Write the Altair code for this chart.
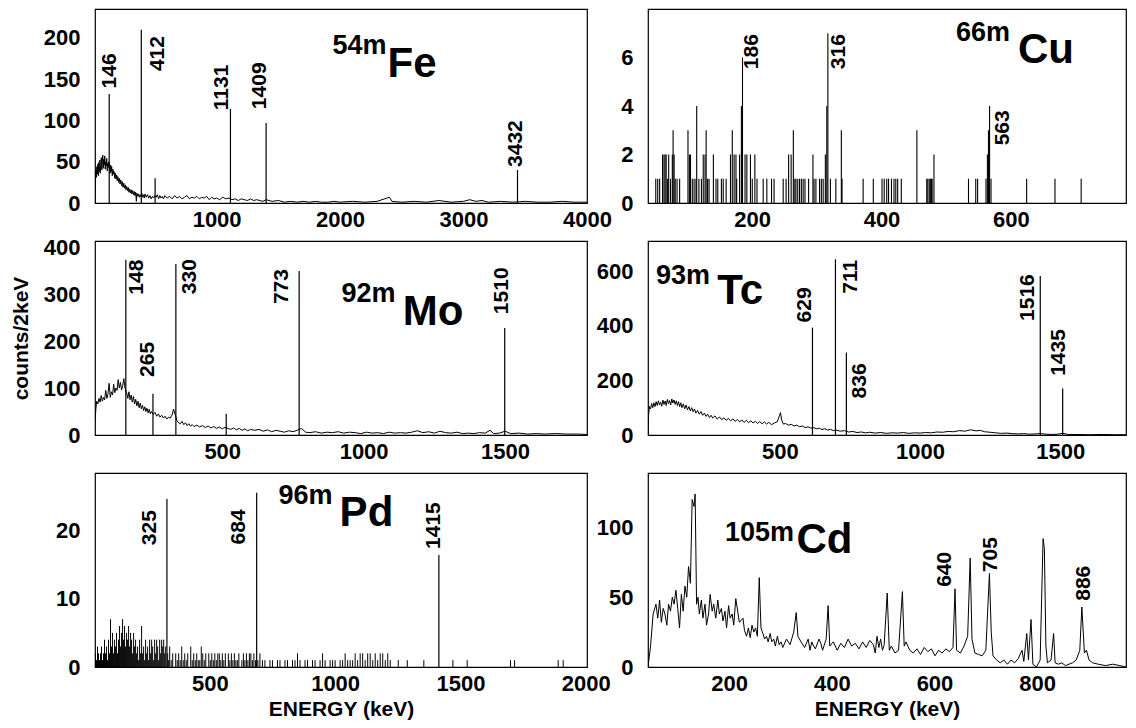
import altair as alt
import pandas as pd

FONT = "Liberation Sans"

# ---------------- 54mFe ----------------
fe_e = [15, 18, 22, 26, 30, 34, 38, 42, 46, 50, 54, 58, 62, 66, 70, 74, 78, 82, 86, 90, 94, 98,
        102, 106, 110, 114, 118, 122, 126, 134, 138, 142, 146, 150, 155, 160, 165, 170, 175, 180,
        185, 190, 195, 200, 206, 212, 218, 224, 230, 236, 242, 248, 254, 260, 266, 272, 278, 284,
        290, 296, 302, 308, 314, 320, 326, 332, 338, 344, 350, 354, 362, 368, 374, 380, 386, 394,
        400, 406, 414, 420, 430, 440, 450, 460, 470, 480, 490, 500, 510, 520, 530, 540, 550, 560,
        570, 580, 600, 620, 640, 660, 680, 700, 720, 740, 760, 780, 800, 820, 840, 860, 880, 900,
        920, 940, 960, 980, 1000, 1025, 1050, 1075, 1100, 1125, 1150, 1175, 1200, 1225, 1250, 1275,
        1300, 1325, 1350, 1375, 1400, 1450, 1500, 1550, 1600, 1650, 1700, 1750, 1800, 1850, 1900,
        1950, 2000, 2100, 2200, 2300, 2400, 2420, 2500, 2600, 2700, 2800, 2900, 3000, 3050, 3100,
        3150, 3200, 3300, 3400, 3500, 3600, 3700, 3800, 3900, 4000]
fe_c = [0, 28, 40, 31, 44, 35, 47, 33, 49, 38, 52, 36, 45, 55, 40, 50, 58, 42, 53, 46, 57, 41,
        50, 45, 54, 39, 48, 43, 50, 44, 36, 46, 38, 44, 33, 41, 35, 38, 30, 36,
        29, 34, 27, 32, 25, 30, 23, 28, 21, 26, 19, 24, 18, 22, 16, 20, 15, 19,
        13, 17, 12, 16, 11, 15, 10, 14, 9, 13, 2, 12, 8, 11, 7, 10, 8, 12,
        7, 10, 6, 11, 7, 10, 6, 9, 5, 8, 6, 9, 7, 10, 5, 9, 6, 8,
        5, 9, 6, 8, 5, 9, 6, 8, 5, 7, 9, 5, 7, 6, 8, 5, 7, 6,
        8, 4, 7, 5, 6, 4, 7, 5, 6, 4, 5, 3, 5, 4, 3, 5,
        3, 4, 3, 2, 4, 2, 3, 1, 2, 1, 2, 1, 2, 1, 1,
        2, 1, 2, 1, 2, 7, 2, 1, 2, 1, 3, 1, 2, 4, 2,
        3, 1, 2, 1, 2, 1, 1, 2, 1, 1]
fe_peak_e = [130, 390, 502, 1112, 1401, 3437]
fe_peak_c = [132, 210, 30, 114, 97, 40]
fe_lab = ["146", "412", "1131", "1409", "3432"]
fe_lab_e = [139, 528, 1045, 1354, 3428]
fe_lab_c = [160, 181, 140, 142, 72]

# ---------------- 66mCu ----------------
cu_e = [51, 54, 57, 61.5, 63.7, 65.4, 67.1, 69.3, 71, 73.8, 76.6, 77.8, 79.4, 81.1, 83.9, 87.9,
        100.8, 103, 104.7, 107.5, 110.3, 113.2, 114.3, 117.7, 121.6, 124.4, 127.2, 128.9, 131.1,
        133.4, 140.1, 144.1, 146.9, 152.5, 155.3, 159.8, 166.5, 169.3, 172.1, 175, 176.1, 180.6,
        183.4, 185.1, 189, 191.8, 197.4, 200.2, 204.2, 207.5, 217.1, 222.7, 230, 233.9, 248,
        252.5, 256.4, 260.3, 263.7, 266, 267.7, 270.5, 273.3, 276.1, 278.9, 281.7, 287.3, 294,
        295.7, 298.6, 304.2, 307, 309.8, 313.2, 315.4, 317.1, 321, 329.4, 337.9, 339, 371.6,
        387.3, 400.8, 404.2, 408.1, 410.9, 415.4, 419.3, 422.1, 425, 430.6, 454.7, 469.9, 471.6,
        473.8, 475.5, 477.2, 478.3, 481.1, 534.5, 545.7, 548.6, 561.5, 563.7, 565.4, 567.1,
        569.3, 624.4, 668.2, 708.7]
cu_c = [1, 1, 1, 2, 2, 2, 2, 1, 2, 1, 2, 3, 2, 1, 1, 1,
        3, 2, 2, 1, 1, 1, 4, 1, 1, 2, 2, 3, 1,
        1, 2, 1, 1, 1, 1, 1, 2, 3, 2, 2, 1, 2,
        4, 6, 2, 2, 2, 1, 2, 1, 1, 1, 1, 1, 1,
        1, 2, 2, 3, 1, 1, 1, 1, 1, 1, 1, 1, 2,
        1, 1, 1, 1, 1, 2, 4, 7, 1, 1, 3, 1, 1,
        1, 1, 1, 1, 1, 1, 1, 1, 1, 1, 3, 1, 1,
        1, 1, 1, 1, 2, 1, 1, 1, 1, 2, 3, 4,
        1, 1, 1, 1]
cu_lab = ["186", "316", "563"]
cu_lab_e = [200, 335, 588]
cu_lab_c = [6.24, 6.24, 3.1]

# ---------------- 92mMo ----------------
mo_e = [50, 53, 56, 60, 64, 68, 72, 76, 80, 84, 88, 92, 96, 100, 104, 108, 112, 116, 120, 124,
        128, 132, 136, 140, 144, 148, 152, 156, 162, 166, 170, 174, 178, 182, 186, 190, 194, 198,
        202, 206, 210, 214, 218, 222, 226, 230, 234, 238, 242, 246, 250, 256, 262, 268, 274, 280,
        286, 292, 298, 304, 310, 316, 322, 328, 340, 346, 352, 358, 364, 370, 376, 382, 388, 394,
        400, 410, 420, 430, 440, 450, 460, 470, 480, 490, 500, 505, 510, 520, 530, 540, 550, 560,
        570, 580, 590, 600, 615, 630, 645, 660, 675, 690, 705, 720, 735, 750, 765, 780, 795, 810,
        830, 850, 870, 890, 910, 930, 950, 970, 990, 1010, 1030, 1050, 1070, 1090, 1110, 1130,
        1150, 1170, 1190, 1210, 1230, 1250, 1270, 1290, 1310, 1330, 1350, 1370, 1390, 1410, 1430,
        1447, 1460, 1480, 1500, 1520, 1550, 1580, 1610, 1640, 1680, 1720, 1760, 1790]
mo_c = [28, 55, 72, 66, 78, 70, 84, 72, 80, 75, 95, 78, 88, 110, 80, 92, 85, 108, 90, 100,
        95, 118, 100, 112, 96, 105, 120, 100, 90, 78, 92, 75, 85, 70, 82, 66, 76, 62,
        72, 58, 68, 56, 63, 52, 60, 50, 57, 47, 55, 45, 50, 44, 48, 40, 45, 38,
        42, 36, 40, 34, 38, 36, 42, 55, 30, 26, 24, 29, 22, 26, 20, 24, 19, 22,
        18, 21, 17, 20, 16, 19, 15, 18, 14, 17, 13, 15, 16, 14, 12, 15, 11, 14,
        10, 13, 9, 12, 10, 12, 8, 11, 7, 10, 8, 6, 9, 7, 10, 14, 6, 5,
        7, 4, 6, 5, 7, 4, 6, 5, 3, 6, 4, 5, 3, 6, 4, 5,
        4, 6, 9, 5, 7, 4, 8, 5, 4, 6, 3, 4, 3, 5, 4,
        10, 3, 4, 8, 3, 4, 2, 3, 2, 3, 2, 2, 1]
mo_peak_e = [159, 255, 336, 514, 772, 1499]
mo_peak_c = [373, 88, 364, 45, 349, 228]
mo_lab = ["148", "265", "330", "773", "1510"]
mo_lab_e = [200, 238, 386, 713, 1488]
mo_lab_c = [336, 161, 337, 316, 307]

# ---------------- 93mTc ----------------
tc_e = [29, 31, 34, 38, 42, 46, 50, 54, 58, 62, 66, 70, 74, 78, 82, 86, 90, 94, 98, 102, 106,
        110, 114, 118, 122, 126, 130, 134, 138, 142, 146, 150, 155, 160, 165, 170, 175, 180, 185,
        190, 195, 200, 206, 212, 218, 224, 230, 236, 242, 248, 254, 260, 268, 276, 284, 292, 300,
        308, 316, 324, 332, 340, 348, 356, 364, 372, 380, 388, 396, 404, 412, 420, 428, 436, 444,
        452, 460, 470, 480, 490, 498, 502, 506, 512, 520, 530, 540, 550, 560, 570, 580, 590, 600,
        610, 620, 630, 640, 650, 660, 670, 680, 690, 700, 715, 730, 745, 760, 775, 790, 805, 820,
        840, 860, 880, 900, 920, 940, 960, 980, 1000, 1020, 1040, 1060, 1080, 1100, 1120, 1140,
        1160, 1180, 1200, 1215, 1230, 1250, 1270, 1290, 1310, 1330, 1350, 1370, 1390, 1410, 1430,
        1450, 1470, 1490, 1510, 1530, 1560, 1600, 1650, 1700, 1735]
tc_c = [0, 70, 105, 95, 115, 100, 118, 104, 122, 108, 125, 110, 120, 105, 128, 112, 124, 108,
        130, 115, 126, 110, 132, 117, 128, 112, 125, 108, 122, 104, 118, 100, 114, 96, 110, 92,
        104, 88, 100, 85, 95, 80, 90, 76, 86, 72, 80, 68, 76, 64, 72, 62, 70, 58, 66, 56, 63,
        54, 61, 52, 59, 50, 57, 48, 55, 46, 54, 45, 52, 44, 50, 42, 49, 41, 48,
        40, 46, 38, 44, 48, 70, 82, 55, 40, 42, 36, 39, 33, 36, 30, 33, 27, 30,
        25, 27, 23, 25, 20, 23, 18, 21, 16, 18, 14, 16, 11, 13, 9, 11, 8, 10,
        7, 9, 6, 8, 7, 9, 6, 8, 7, 9, 8, 11, 10, 13, 12, 16,
        14, 19, 15, 17, 12, 10, 8, 6, 7, 5, 4, 5, 3, 4, 5,
        3, 2, 3, 6, 2, 2, 1, 2, 1, 1]
tc_peak_e = [616, 698, 737, 1429, 1509]
tc_peak_c = [393, 643, 302, 582, 170]
tc_lab = ["629", "711", "836", "1516", "1435"]
tc_lab_e = [588, 752, 784, 1386, 1496]
tc_lab_c = [476, 579, 198, 503, 302]

# ---------------- 96mPd ----------------
pd_e = [44, 48, 52, 56, 60, 64, 68, 72, 76, 80, 84, 88, 92, 96, 100, 104, 108, 112, 116, 120,
        124, 128, 132, 136, 140, 144, 148, 152, 156, 160, 164, 168, 172, 176, 180, 184, 188, 192,
        196, 200, 204, 208, 212, 216, 220, 224, 228, 232, 236, 240, 244, 248, 252, 256, 260, 264,
        268, 272, 276, 280, 284, 288, 292, 296, 300, 304, 308, 312, 316, 320, 324,
        332, 336, 340, 346, 352, 358, 364, 370, 376, 382, 388, 394, 400, 406, 412, 418, 424, 430,
        436, 442, 448, 454, 460, 466, 472, 478, 484, 490, 496, 502, 508, 514, 520, 526, 532, 538,
        544, 550, 556, 562, 568, 574, 580, 586, 592, 598, 604, 610, 616, 622, 628, 634, 640, 646,
        652, 658, 664, 670, 676, 682,
        692, 700, 710, 720, 730, 740, 750, 760, 770, 780, 790, 800, 810, 820, 830, 840, 850, 860,
        870, 880, 890, 900, 910, 920, 930, 940, 950, 960, 970, 980, 990, 1000, 1010, 1020, 1030,
        1040, 1050, 1060, 1070, 1080, 1090, 1100, 1110, 1120, 1130, 1140, 1150, 1160, 1170, 1180,
        1190, 1200, 1210, 1220,
        1252, 1288, 1354, 1470, 1527, 1700, 1716, 1890, 1910]
pd_c = [2, 1, 3, 2, 1, 2, 3, 1, 2, 4, 2, 3, 1, 4, 2, 7, 3, 5, 2, 4,
        3, 5, 2, 4, 6, 3, 5, 7, 4, 6, 3, 5, 4, 6, 3, 5, 4, 2,
        5, 3, 4, 2, 3, 1, 4, 2, 6, 2, 3, 1, 4, 2, 3, 1, 4, 2,
        4, 3, 1, 4, 2, 4, 3, 1, 4, 2, 4, 3, 4, 2, 3,
        2, 1, 3, 1, 2, 0, 2, 1, 2, 1, 3, 1, 2, 1, 2, 0, 3, 1,
        2, 1, 2, 1, 1, 3, 2, 1, 2, 0, 2, 1, 2, 1, 2, 1, 2, 2,
        1, 2, 1, 2, 0, 2, 1, 2, 1, 2, 1, 1, 2, 0, 1, 2, 1, 2,
        1, 2, 2, 1, 2, 1,
        1, 2, 1, 1, 0, 1, 1, 0, 1, 1, 0, 1, 1, 0, 1, 1, 2, 1,
        0, 1, 1, 0, 1, 1, 0, 1, 2, 1, 0, 1, 1, 1, 0, 1, 1,
        2, 1, 1, 1, 2, 1, 2, 2, 1, 2, 2, 1, 2, 1, 2,
        2, 1, 2, 1,
        1, 1, 1, 1, 1, 1, 1, 1, 1]
pd_peak_e = [329, 687, 1414]
pd_peak_c = [24.6, 25.5, 16.4]
pd_lab = ["325", "684", "1415"]
pd_lab_e = [262, 617, 1393]
pd_lab_c = [20.4, 20.5, 20.7]

# ---------------- 105mCd ----------------
cd_e = [42, 47, 52, 57.5, 61, 64.6, 68, 71.6, 75, 78.7, 82, 85.8, 89.3, 92.8, 96.4, 99.9, 103.4,
        107, 110.5, 114, 117.5, 121, 124.6, 128, 131.6, 133.8, 136.6, 139.4, 142, 146, 149, 153,
        156, 160, 163, 167, 170, 174, 178, 181, 185, 188, 192, 195, 199, 202, 206, 209, 213, 220,
        227, 230, 234, 237.5, 241, 244.6, 248, 251.6, 255, 258.7, 262, 265.8, 269, 272.8, 276,
        280, 283, 287, 290, 294, 297.5, 301, 304.6, 311.7, 318.7, 325.8, 330.7, 334, 340, 347,
        354, 357.5, 361, 364.6, 368, 375, 378.7, 382, 389, 392.8, 396, 403, 410.5, 417.5, 424.6,
        431.7, 438.7, 445.8, 452.8, 460, 467, 474, 481, 484.6, 488, 491.7, 495, 498.7, 502,
        507.9, 512, 516, 523, 530, 537.5, 541, 544.6, 551.7, 558.7, 565.8, 572.8, 580, 587, 594,
        601, 608, 615, 622, 629, 636, 640, 643, 650.5, 657.5, 664.6, 669.5, 673, 678.7, 685.8,
        692.8, 700, 707, 710.5, 714, 721, 728, 735, 742, 749, 756, 763, 770.5, 774, 779.7, 783,
        788, 791.7, 798.7, 805.8, 811.5, 814, 817, 820, 827, 832, 835, 841, 848, 855, 862, 869,
        876, 883, 887, 892, 896, 901, 908, 919, 933, 947, 961, 973]
cd_c = [0, 15, 38, 45, 35, 48, 32, 42, 38, 30, 45, 40, 50, 45, 55, 42, 28,
        52, 40, 58, 50, 72, 60, 120, 115, 124, 45, 50, 38, 48, 35, 45,
        30, 38, 52, 40, 45, 35, 48, 38, 42, 33, 40, 28, 44, 35, 38, 30, 49, 32,
        35, 26, 22, 28, 21, 30, 25, 28, 22, 64, 28, 24, 20, 22, 18,
        24, 18, 20, 15, 22, 16, 18, 14, 20, 16, 25, 39, 22, 18, 14,
        20, 12, 18, 15, 13, 20, 17, 12, 20, 44, 15, 18, 12, 17, 14,
        20, 15, 17, 13, 18, 14, 19, 16, 10, 22, 14, 20, 12, 16,
        53, 12, 15, 10, 12, 54, 15, 18, 12, 10, 13, 9, 14, 11, 13,
        8, 12, 10, 13, 11, 14, 56, 12, 10, 15, 22, 78, 20, 10, 9,
        8, 12, 67, 25, 8, 5, 3, 5, 2, 5, 3, 6, 12, 4, 24, 5,
        34, 2, 0, 5, 92, 85, 15, 3, 5, 24, 3, 2, 3, 1, 2, 3,
        5, 12, 43, 10, 12, 5, 3, 2, 1, 2, 1, 0]
cd_lab = ["640", "705", "886"]
cd_lab_e = [620, 710, 892]
cd_lab_c = [70, 80.5, 60]

# ---------------- isotope names ----------------
iso_mass = ["54m", "66m", "92m", "93m", "96m", "105m"]
iso_sym = ["Fe", "Cu", "Mo", "Tc", "Pd", "Cd"]
iso_mass_e = [1938, 515, 922, 57.5, 774, 192]
iso_mass_c = [181, 6.7, 284, 551, 23.9, 90.5]
iso_sym_e = [2385, 611, 1138, 276, 1018, 331]
iso_sym_c = [153, 5.77, 234, 478, 20.7, 82]

WL = 492
WR = 478
H = 194


def df(e, c, t=None):
    d = {"E": e, "c": c}
    if t is not None:
        d["t"] = t
    return pd.DataFrame(d)


def panel(i, w, xdom, ydom, xticks, yticks, line=None, bars=None, peaks=None, labels=None,
          xtitle=None, ytitle=None, bar_w=1.1):
    xs = alt.Scale(domain=xdom, nice=False, zero=False)
    ys = alt.Scale(domain=ydom, nice=False, zero=False)
    xax = alt.Axis(values=xticks, format="d", title=xtitle, grid=False, ticks=False,
                   domain=False, labelFontSize=22, labelFontWeight="bold", labelPadding=6,
                   labelOverlap=False, labelFlush=False, labelColor="black",
                   titleFontSize=21, titleFontWeight="bold", titlePadding=4,
                   titleColor="black")
    yax = alt.Axis(values=yticks, format="d", title=ytitle, grid=False, ticks=False,
                   domain=False, labelFontSize=22, labelFontWeight="bold", labelPadding=15,
                   labelOverlap=False, labelFlush=False, labelColor="black",
                   titleFontSize=21, titleFontWeight="bold", titlePadding=12,
                   titleColor="black")
    X = alt.X("E:Q", scale=xs, axis=xax)
    Y = alt.Y("c:Q", scale=ys, axis=yax)
    layers = []
    if line is not None:
        layers.append(alt.Chart(line).mark_line(color="black", strokeWidth=1, clip=True)
                      .encode(x=X, y=Y))
    if bars is not None:
        layers.append(alt.Chart(bars).mark_rule(color="black", strokeWidth=bar_w, clip=True)
                      .encode(x=X, y=Y, y2=alt.datum(0)))
    if peaks is not None:
        layers.append(alt.Chart(peaks).mark_rule(color="black", strokeWidth=1.2, clip=True)
                      .encode(x=X, y=Y, y2=alt.datum(0)))
    if labels is not None:
        layers.append(alt.Chart(labels).mark_text(angle=270, font=FONT, fontSize=21,
                                                   fontWeight="bold", color="black")
                      .encode(x=X, y=Y, text="t:N"))
    mass = df([iso_mass_e[i]], [iso_mass_c[i]], [iso_mass[i]])
    sym = df([iso_sym_e[i]], [iso_sym_c[i]], [iso_sym[i]])
    layers.append(alt.Chart(mass).mark_text(align="left", baseline="alphabetic", font=FONT,
                                            fontSize=27, fontWeight="bold", color="black")
                  .encode(x=X, y=Y, text="t:N"))
    layers.append(alt.Chart(sym).mark_text(align="left", baseline="alphabetic", font=FONT,
                                           fontSize=42, fontWeight="bold", color="black")
                  .encode(x=X, y=Y, text="t:N"))
    return alt.layer(*layers).properties(width=w, height=H)


p_fe = panel(0, WL, [15, 4000], [0, 235], [1000, 2000, 3000, 4000], [0, 50, 100, 150, 200],
             line=df(fe_e, fe_c), peaks=df(fe_peak_e, fe_peak_c),
             labels=df(fe_lab_e, fe_lab_c, fe_lab))
p_cu = panel(1, WR, [39, 778], [0, 8], [200, 400, 600], [0, 2, 4, 6],
             bars=df(cu_e, cu_c), labels=df(cu_lab_e, cu_lab_c, cu_lab))
p_mo = panel(2, WL, [50, 1790], [0, 413], [500, 1000, 1500], [0, 100, 200, 300, 400],
             line=df(mo_e, mo_c), peaks=df(mo_peak_e, mo_peak_c),
             labels=df(mo_lab_e, mo_lab_c, mo_lab), ytitle="counts/2keV")
p_tc = panel(3, WR, [29, 1735], [0, 710], [500, 1000, 1500], [0, 200, 400, 600],
             line=df(tc_e, tc_c), peaks=df(tc_peak_e, tc_peak_c),
             labels=df(tc_lab_e, tc_lab_c, tc_lab))
p_pd = panel(4, WL, [42, 2005], [0, 28.4], [500, 1000, 1500, 2000], [0, 10, 20],
             bars=df(pd_e, pd_c), peaks=df(pd_peak_e, pd_peak_c),
             labels=df(pd_lab_e, pd_lab_c, pd_lab), xtitle="ENERGY (keV)", bar_w=1.0)
p_cd = panel(5, WR, [42, 973], [0, 139], [200, 400, 600, 800], [0, 50, 100],
             line=df(cd_e, cd_c), labels=df(cd_lab_e, cd_lab_c, cd_lab),
             xtitle="ENERGY (keV)")

chart = (alt.concat(p_fe, p_cu, p_mo, p_tc, p_pd, p_cd, columns=2,
                    spacing={"row": 38, "column": 61}, bounds="flush")
         .properties(padding={"left": 1, "top": 0, "right": 0, "bottom": 0},
                     background="white")
         .configure(font=FONT)
         .configure_view(stroke="black", strokeWidth=1.2))

chart.save("out.html", embed_options={"renderer": "svg", "actions": False})
